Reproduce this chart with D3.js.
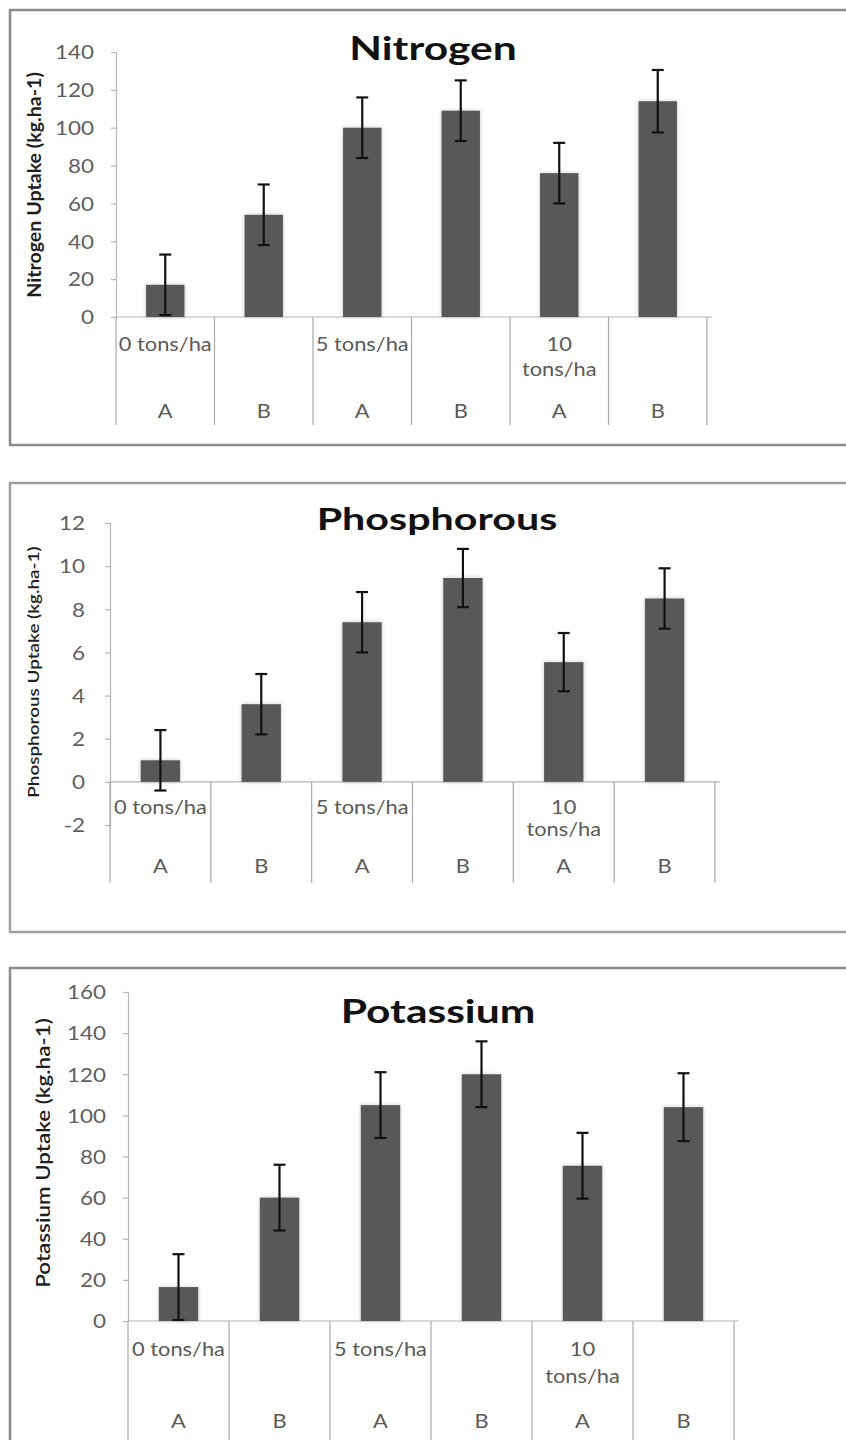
<!DOCTYPE html>
<html>
<head>
<meta charset="utf-8">
<script src="https://cdn.jsdelivr.net/npm/d3@7"></script>
<style>
  body { margin: 0; background: #ffffff; }
  svg { display: block; }
  text { font-family: Lato, "Open Sans", sans-serif; }
</style>
</head>
<body>
<svg id="chart" width="846" height="1440"></svg>
<script>
// Category levels shared by the three panels
const variety = ["A", "B", "A", "B", "A", "B"];
const treatment = ["0 tons/ha", "", "5 tons/ha", "", "10 tons/ha", ""];

// Nutrient uptake (kg.ha-1) with error bar half-lengths
const nitrogen = [17, 54, 100, 109, 76, 114];
const nitrogenErr = [16, 16, 16, 16, 16, 16.5];
const nitrogenTicks = [0, 20, 40, 60, 80, 100, 120, 140];

const phosphorous = [1.0, 3.6, 7.4, 9.45, 5.55, 8.5];
const phosphorousErr = [1.4, 1.4, 1.4, 1.35, 1.35, 1.4];
const phosphorousTicks = [-2, 0, 2, 4, 6, 8, 10, 12];

const potassium = [16.5, 60, 105, 120, 75.5, 104];
const potassiumErr = [16, 16, 16, 16, 16, 16.5];
const potassiumTicks = [0, 20, 40, 60, 80, 100, 120, 140, 160];

// Text is drawn slightly widened horizontally
const SX = 1.18;
const TITLE_SX = 1.33;

const panels = [
  { title: "Nitrogen", yLabel: "Nitrogen Uptake (kg.ha-1)", values: nitrogen, errors: nitrogenErr, ticks: nitrogenTicks,
    frame: { x: 10, y: 10, h: 435, stroke: "#8a8a8a" }, left: 116, right: 707, top: 52, bottom: 317,
    titleX: 433, titleY: 60, titleSize: 32,
    yLabelX: 35, yLabelY: 185, yLabelSize: 18, yLabelStretch: 1.09, yLabelWeight: 700,
    tickGap: 22, rows: [28, 53, 95], sepEnd: 108 },
  { title: "Phosphorous", yLabel: "Phosphorous Uptake (kg.ha-1)", values: phosphorous, errors: phosphorousErr, ticks: phosphorousTicks,
    frame: { x: 10, y: 483, h: 449, stroke: "#a0a0a0" }, left: 110, right: 715, top: 523, bottom: 825,
    titleX: 437, titleY: 530, titleSize: 31,
    yLabelX: 34, yLabelY: 672, yLabelSize: 15.5, yLabelStretch: 1.22, yLabelWeight: 600,
    tickGap: 25, rows: [26, 48, 85], sepEnd: 101 },
  { title: "Potassium", yLabel: "Potassium Uptake (kg.ha-1)", values: potassium, errors: potassiumErr, ticks: potassiumTicks,
    frame: { x: 10, y: 968, h: 520, stroke: "#8a8a8a" }, left: 128, right: 734, top: 992, bottom: 1321,
    titleX: 438, titleY: 1023, titleSize: 32,
    yLabelX: 43, yLabelY: 1153, yLabelSize: 20, yLabelStretch: 1.12, yLabelWeight: 600,
    tickGap: 22, rows: [29, 56, 101], sepEnd: 125 }
];

const svg = d3.select("#chart");

const defs = svg.append("defs");
const glow = defs.append("filter").attr("id", "barGlow")
  .attr("x", "-30%").attr("y", "-10%").attr("width", "160%").attr("height", "120%");
glow.append("feDropShadow").attr("dx", 0).attr("dy", 0).attr("stdDeviation", 2.2)
  .attr("flood-color", "#9a9a9a").attr("flood-opacity", 0.55);

const frameShadow = defs.append("filter").attr("id", "frameShadow")
  .attr("x", "-5%").attr("y", "-5%").attr("width", "110%").attr("height", "110%");
frameShadow.append("feGaussianBlur").attr("stdDeviation", 0.6);

function stretched(g, x, y, txt, sx = SX) {
  return g.append("text")
    .attr("transform", `translate(${x},${y}) scale(${sx},1)`)
    .text(txt);
}

panels.forEach(p => {
  const g = svg.append("g");

  // chart area border
  g.append("rect")
    .attr("x", p.frame.x).attr("y", p.frame.y)
    .attr("width", 900).attr("height", p.frame.h)
    .attr("fill", "#ffffff").attr("stroke", p.frame.stroke).attr("stroke-width", 2.5)
    .attr("filter", "url(#frameShadow)");

  const y = d3.scaleLinear()
    .domain([p.ticks[0], p.ticks[p.ticks.length - 1]])
    .range([p.bottom, p.top]);
  const y0 = y(0);

  const x = d3.scaleBand()
    .domain(d3.range(p.values.length))
    .range([p.left, p.right])
    .paddingInner(0.61)
    .paddingOuter(0.305);
  const step = x.step();

  // y axis
  const yAxis = g.append("g")
    .attr("transform", `translate(${p.left},0)`)
    .call(d3.axisLeft(y).tickValues(p.ticks).tickFormat(d => String(d))
      .tickSize(5).tickSizeOuter(0).tickPadding(p.tickGap));
  yAxis.select(".domain").attr("stroke", "#b5b5b5").attr("stroke-width", 1.2);
  yAxis.selectAll(".tick line").attr("stroke", "#b5b5b5").attr("stroke-width", 1.2);
  yAxis.selectAll(".tick text")
    .attr("fill", "#5e5e5e")
    .style("font-size", "19px")
    .style("font-family", "Lato, 'Open Sans', sans-serif")
    .attr("x", null).attr("dy", "0.36em")
    .attr("transform", `translate(${-p.tickGap},0) scale(${SX},1)`);

  // category axis: baseline and separators
  g.append("line")
    .attr("x1", p.left).attr("x2", p.right + 5)
    .attr("y1", y0).attr("y2", y0)
    .attr("stroke", "#b5b5b5").attr("stroke-width", 1.2);
  g.selectAll(".sep").data(d3.range(p.values.length + 1)).join("line")
    .attr("x1", i => p.left + i * step).attr("x2", i => p.left + i * step)
    .attr("y1", y0).attr("y2", y0 + p.sepEnd)
    .attr("stroke", "#a8a8a8").attr("stroke-width", 1.2);

  // bars
  g.selectAll(".bar").data(p.values).join("rect")
    .attr("x", (d, i) => x(i))
    .attr("width", x.bandwidth())
    .attr("y", d => y(Math.max(0, d)))
    .attr("height", d => Math.abs(y(d) - y0))
    .attr("fill", "#595959")
    .attr("filter", "url(#barGlow)");

  // error bars
  const eb = g.selectAll(".err").data(p.values).join("g")
    .attr("transform", (d, i) => `translate(${x(i) + x.bandwidth() / 2},0)`);
  eb.append("line")
    .attr("y1", (d, i) => y(d - p.errors[i])).attr("y2", (d, i) => y(d + p.errors[i]))
    .attr("stroke", "#111").attr("stroke-width", 2.2);
  eb.append("line")
    .attr("x1", -6).attr("x2", 6)
    .attr("y1", (d, i) => y(d + p.errors[i])).attr("y2", (d, i) => y(d + p.errors[i]))
    .attr("stroke", "#111").attr("stroke-width", 2.2);
  eb.append("line")
    .attr("x1", -6).attr("x2", 6)
    .attr("y1", (d, i) => y(d - p.errors[i])).attr("y2", (d, i) => y(d - p.errors[i]))
    .attr("stroke", "#111").attr("stroke-width", 2.2);

  // category labels: treatment (wrapped when too wide) and variety
  const labels = g.append("g")
    .attr("fill", "#5a5a5a")
    .attr("text-anchor", "middle")
    .style("font-size", "18.5px");
  treatment.forEach((t, i) => {
    if (!t) return;
    const cx = p.left + (i + 0.5) * step;
    const probe = stretched(labels, cx, y0 + p.rows[0], t).attr("dy", "0.35em");
    if (probe.node().getComputedTextLength() * SX > step - 1 && t.includes(" ")) {
      probe.remove();
      const k = t.indexOf(" ");
      stretched(labels, cx, y0 + p.rows[0], t.slice(0, k)).attr("dy", "0.35em");
      stretched(labels, cx, y0 + p.rows[1], t.slice(k + 1)).attr("dy", "0.35em");
    }
  });
  variety.forEach((v, i) => {
    stretched(labels, p.left + (i + 0.5) * step, y0 + p.rows[2], v).attr("dy", "0.35em");
  });

  // chart title
  stretched(g, p.titleX, p.titleY, p.title, TITLE_SX)
    .attr("text-anchor", "middle")
    .attr("fill", "#111")
    .style("font-size", p.titleSize + "px")
    .style("font-weight", 700);

  // value axis title, stretched along its length
  g.append("text")
    .attr("transform", `translate(${p.yLabelX},${p.yLabelY}) rotate(-90) scale(${p.yLabelStretch},1)`)
    .attr("text-anchor", "middle")
    .attr("dy", "0.35em")
    .attr("fill", "#1e1e1e")
    .style("font-size", p.yLabelSize + "px")
    .style("font-weight", p.yLabelWeight)
    .text(p.yLabel);
});
</script>
</body>
</html>
